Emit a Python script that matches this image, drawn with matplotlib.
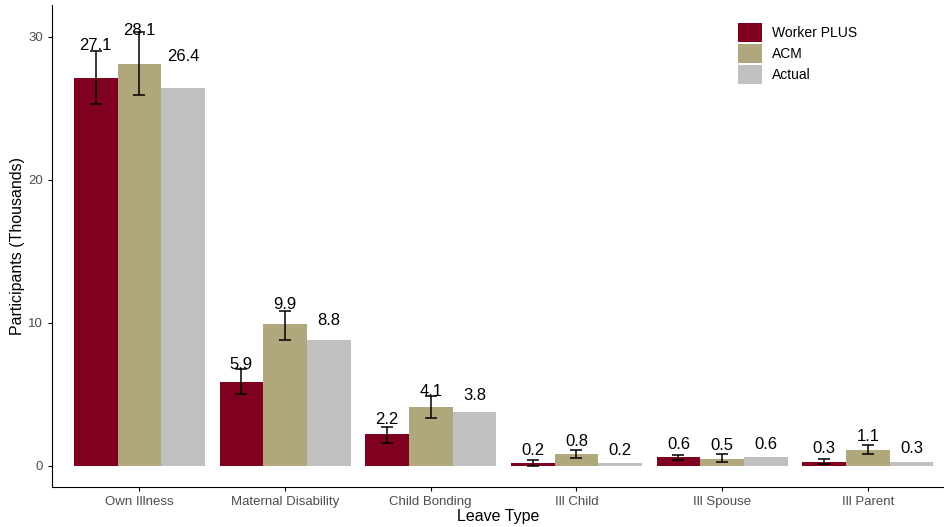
import matplotlib.pyplot as plt
import numpy as np

plt.rcParams['font.family'] = ['Liberation Sans', 'DejaVu Sans']

leave_types = ['Own Illness', 'Maternal Disability', 'Child Bonding',
               'Ill Child', 'Ill Spouse', 'Ill Parent']
series = ['Worker PLUS', 'ACM', 'Actual']

worker_plus = [27.1, 5.9, 2.2, 0.2, 0.6, 0.3]
acm = [28.1, 9.9, 4.1, 0.8, 0.5, 1.1]
actual = [26.4, 8.8, 3.8, 0.2, 0.6, 0.3]

# error bar ends (lower, upper)
wp_low = [25.3, 5.0, 1.6, 0.02, 0.40, 0.16]
wp_high = [29.0, 6.8, 2.7, 0.42, 0.79, 0.51]
acm_low = [25.9, 8.8, 3.35, 0.58, 0.26, 0.84]
acm_high = [30.3, 10.8, 4.9, 1.14, 0.84, 1.49]

colors = ['#800020', '#B0A77D', '#C0C0C0']


def main():
    fig = plt.figure(figsize=(9.45, 5.27), dpi=100)
    ax = fig.add_axes([0.055, 0.076, 0.945, 0.914])
    x = np.arange(len(leave_types))
    w = 0.3
    vals = [worker_plus, acm, actual]
    for i, (name, v, c) in enumerate(zip(series, vals, colors)):
        ax.bar(x + (i - 1) * w, v, w, color=c, label=name)
        for xi, vi in zip(x, v):
            ax.text(xi + (i - 1) * w, vi * 1.05 + 0.9, f'{vi:.1f}',
                    ha='center', va='center', fontsize=12, color='black')

    for off, v, lo, hi in [(-w, worker_plus, wp_low, wp_high),
                           (0, acm, acm_low, acm_high)]:
        v = np.array(v)
        err = [v - np.array(lo), np.array(hi) - v]
        ax.errorbar(x + off, v, yerr=err, fmt='none', ecolor='black',
                    elinewidth=1.1, capsize=4.5, capthick=1.1)

    ax.set_xlim(-0.6, 5.53)
    ax.set_ylim(-1.47, 32.2)
    ax.set_xticks(x)
    ax.set_xticklabels(leave_types, fontsize=9.5, color='#4D4D4D')
    ax.set_yticks([0, 10, 20, 30])
    ax.tick_params(axis='y', labelsize=9.5, labelcolor='#4D4D4D', length=3)
    ax.tick_params(axis='x', length=3)
    ax.set_xlabel('Leave Type', fontsize=11.5, labelpad=1)
    ax.set_ylabel('Participants (Thousands)', fontsize=11.5, labelpad=2)
    for s in ['top', 'right']:
        ax.spines[s].set_visible(False)
    ax.legend(loc='upper left', bbox_to_anchor=(0.754, 0.99), frameon=False,
              fontsize=10, handlelength=1.75, handleheight=1.75,
              labelspacing=0.15, handletextpad=0.7)
    fig.savefig('out.png', dpi=100)


main()
